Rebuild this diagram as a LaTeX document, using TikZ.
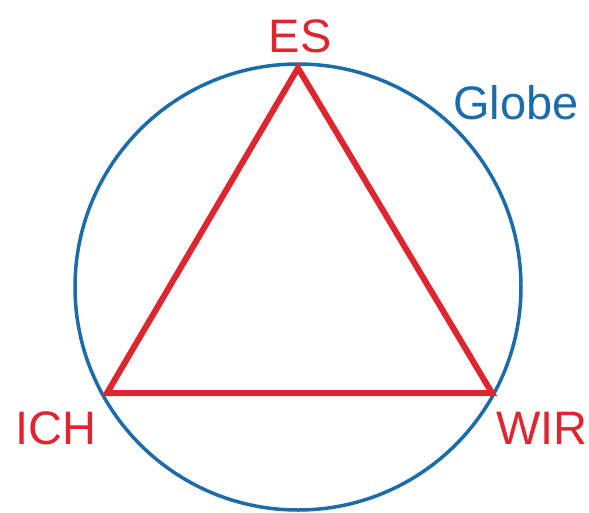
\documentclass[tikz,border=0pt]{standalone}
\usepackage{fontspec}
\setmainfont{Liberation Sans}
\definecolor{tri}{RGB}{222,38,48}
\definecolor{glob}{RGB}{28,108,170}
\tikzset{
  lbl/.style={font=\fontsize{47}{47}\selectfont, inner sep=0pt},
  redlbl/.style={lbl, text=tri},
  bluelbl/.style={lbl, text=glob},
}
\begin{document}
\begin{tikzpicture}[x=1pt,y=-1pt]
\useasboundingbox (0,0) rectangle (589,512);
\coordinate (c) at (298,287);
\draw[glob, line width=3.5pt] (c) circle[radius=223];
\coordinate (es) at (298,68);
\coordinate (ich) at (107,393);
\coordinate (wir) at (492,393);
\draw[tri, line width=6pt, line join=miter] (es) -- (wir) -- (ich) -- cycle;
\node[redlbl] (tes) at (300,36) {ES};
\node[redlbl] (tich) at (56,428) {ICH};
\node[redlbl] (twir) at (542,428) {WIR};
\node[bluelbl] (tglobe) at (516,103) {Globe};
\end{tikzpicture}
\end{document}
